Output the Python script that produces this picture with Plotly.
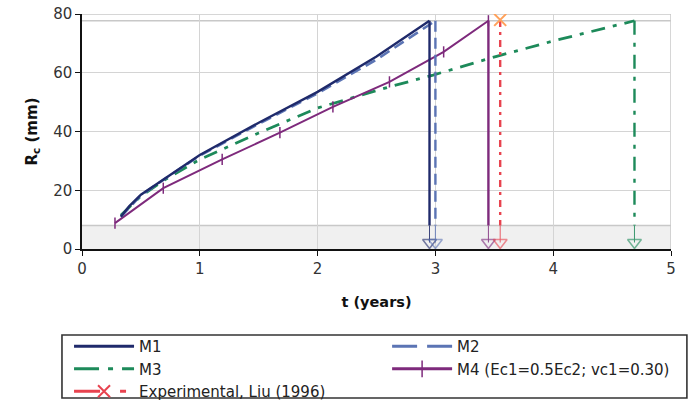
import plotly.graph_objects as go

# ---------------- data ----------------
m1_t = [0.33, 0.4, 0.5, 0.7, 1.0, 1.5, 2.0, 2.5, 2.95]
m1_r = [11.0, 14.5, 18.5, 24.0, 32.0, 43.0, 53.5, 65.5, 77.7]

m2_t = [0.33, 0.5, 0.7, 1.0, 1.5, 2.0, 2.5, 3.0]
m2_r = [11.0, 18.3, 23.8, 31.8, 42.6, 53.0, 64.5, 77.7]

m3_t = [0.33, 0.5, 0.7, 1.0, 1.5, 1.85, 2.0, 2.61, 2.98, 3.52, 4.0, 4.69]
m3_r = [11.5, 18.0, 23.5, 30.5, 39.5, 45.6, 48.0, 55.2, 59.2, 65.6, 70.8, 77.7]

m4_t = [0.28, 0.69, 1.19, 1.68, 2.13, 2.61, 3.07, 3.45]
m4_r = [8.8, 20.7, 30.5, 39.6, 48.4, 56.9, 67.1, 77.7]

exp_t = [3.55]
exp_r = [78.0]

end_times = {"M1": 2.95, "M2": 3.0, "M3": 4.69, "M4": 3.45, "Exp": 3.55}
crit_r = 77.7      # critical crack radius line
band_r = 8.0       # initial band
arrow_r = 2.2      # arrow head position

x_ticks = [0, 1, 2, 3, 4, 5]
y_ticks = [0, 20, 40, 60, 80]

# ---------------- styles ----------------
C_M1 = "#1f2a6b"
C_M2 = "#5b74b4"
C_M3 = "#1d8a5a"
C_M4 = "#7e2a7c"
C_EXP = "#e8434f"

DASH_M2 = "11px,6px"
DASH_M3 = "14px,8px,4px,8px"
DASH_EXP = "7px,5px,3px,5px"

fig = go.Figure()

# main curves
fig.add_trace(go.Scatter(x=m3_t, y=m3_r, mode="lines", showlegend=False,
                         line=dict(color=C_M3, width=2.8, dash=DASH_M3)))
fig.add_trace(go.Scatter(x=m4_t, y=m4_r, mode="lines+markers", showlegend=False,
                         line=dict(color=C_M4, width=2),
                         marker=dict(symbol="line-ns-open", size=8,
                                     line=dict(color=C_M4, width=1.5))))
fig.add_trace(go.Scatter(x=m2_t, y=m2_r, mode="lines", showlegend=False,
                         line=dict(color=C_M2, width=2.6, dash=DASH_M2)))
fig.add_trace(go.Scatter(x=m1_t, y=m1_r, mode="lines", showlegend=False,
                         line=dict(color=C_M1, width=2.4)))

# vertical drop lines + arrows
drops = [
    ("M1", C_M1, "solid", crit_r),
    ("M2", C_M2, DASH_M2, crit_r),
    ("M3", C_M3, DASH_M3, crit_r),
    ("M4", C_M4, "solid", crit_r),
    ("Exp", C_EXP, DASH_EXP, exp_r[0]),
]
for key, col, dash, top in drops:
    xe = end_times[key]
    fig.add_trace(go.Scatter(x=[xe, xe], y=[top, band_r], mode="lines",
                             showlegend=False,
                             line=dict(color=col, width=2.4, dash=dash)))
    fig.add_trace(go.Scatter(x=[xe, xe], y=[band_r, arrow_r], mode="lines+markers",
                             showlegend=False, opacity=0.85,
                             line=dict(color=col, width=1),
                             marker=dict(symbol=["circle", "triangle-down-open"],
                                         size=[0, 12],
                                         line=dict(color=col, width=1.5))))

# experimental point
fig.add_trace(go.Scatter(x=exp_t, y=exp_r, mode="markers", showlegend=False,
                         marker=dict(symbol="x-thin-open", size=12,
                                     line=dict(color=C_EXP, width=2))))

# legend-only traces
def leg(name, legend, **kw):
    fig.add_trace(go.Scatter(x=[None], y=[None], name=name, legend=legend, **kw))

leg("M1", "legend", mode="lines", line=dict(color=C_M1, width=3))
leg("M3", "legend", mode="lines", line=dict(color=C_M3, width=3, dash="25px,9px,5px,9px"))
leg("Experimental, Liu (1996)", "legend", mode="lines+markers",
    line=dict(color=C_EXP, width=3, dash="26px,20px,6px,20px"),
    marker=dict(symbol="x-thin-open", size=12, line=dict(color=C_EXP, width=2)))
leg("M2", "legend2", mode="lines", line=dict(color=C_M2, width=3, dash="25px,10px"))
leg("M4 (Ec1=0.5Ec2; vc1=0.30)", "legend2", mode="lines+markers",
    line=dict(color=C_M4, width=3),
    marker=dict(symbol="line-ns-open", size=12, line=dict(color=C_M4, width=1.5)))

# plot-area decorations
fig.add_shape(type="rect", xref="x", yref="y", x0=x_ticks[0], x1=x_ticks[-1],
              y0=0, y1=band_r, fillcolor="#f0f0f0", line=dict(width=0), layer="below")
fig.add_shape(type="line", xref="x", yref="y", x0=x_ticks[0], x1=x_ticks[-1],
              y0=band_r, y1=band_r, line=dict(color="#c8c8c8", width=1.5), layer="below")
fig.add_shape(type="line", xref="x", yref="y", x0=x_ticks[0], x1=x_ticks[-1],
              y0=crit_r, y1=crit_r, line=dict(color="#c8c8c8", width=1.5), layer="below")
fig.add_shape(type="line", xref="x", yref="y", x0=x_ticks[-1], x1=x_ticks[-1],
              y0=0, y1=y_ticks[-1], line=dict(color="#c8c8c8", width=1.5), layer="below")
fig.add_shape(type="line", xref="x", yref="y", x0=x_ticks[0], x1=x_ticks[-1],
              y0=y_ticks[-1], y1=y_ticks[-1], line=dict(color="#c8c8c8", width=1.5), layer="below")

# legend frame
fig.add_shape(type="rect", xref="paper", yref="paper",
              x0=-0.034, x1=1.027, y0=-0.634, y1=-0.366,
              line=dict(color="#333333", width=1.6), fillcolor="rgba(0,0,0,0)")

font_family = "DejaVu Sans, Liberation Sans, Arial, sans-serif"
leg_font = dict(size=15, color="#222222", family=font_family)
fig.update_layout(
    width=689, height=402,
    margin=dict(l=82, r=18, t=14, b=153, autoexpand=False),
    paper_bgcolor="white", plot_bgcolor="white",
    font=dict(family=font_family, size=15, color="#333333"),
    xaxis=dict(range=[x_ticks[0], x_ticks[-1]], tickvals=x_ticks,
               showgrid=True, gridcolor="#d4d4d4", gridwidth=1,
               showline=True, linecolor="#111111", linewidth=1.5,
               ticks="outside", ticklen=5, tickcolor="#111111",
               zeroline=False,
               title=dict(text="<b>t (years)</b>", font=dict(size=14.5, color="#111111"),
                          standoff=20)),
    yaxis=dict(range=[y_ticks[0], y_ticks[-1]], tickvals=y_ticks,
               showgrid=True, gridcolor="#d4d4d4", gridwidth=1,
               showline=True, linecolor="#111111", linewidth=1.5,
               ticks="outside", ticklen=5, tickcolor="#111111",
               zeroline=False,
               title=dict(text="<b>R<sub>c</sub> (mm)</b>", font=dict(size=15, color="#111111"),
                          standoff=12)),
    legend=dict(x=-0.022, y=-0.345, xanchor="left", yanchor="top",
                bgcolor="rgba(0,0,0,0)", borderwidth=0, tracegroupgap=0,
                font=leg_font, itemwidth=60),
    legend2=dict(x=0.518, y=-0.345, xanchor="left", yanchor="top",
                 bgcolor="rgba(0,0,0,0)", borderwidth=0, tracegroupgap=0,
                 font=leg_font, itemwidth=60),
)

fig.write_html("out.html")
